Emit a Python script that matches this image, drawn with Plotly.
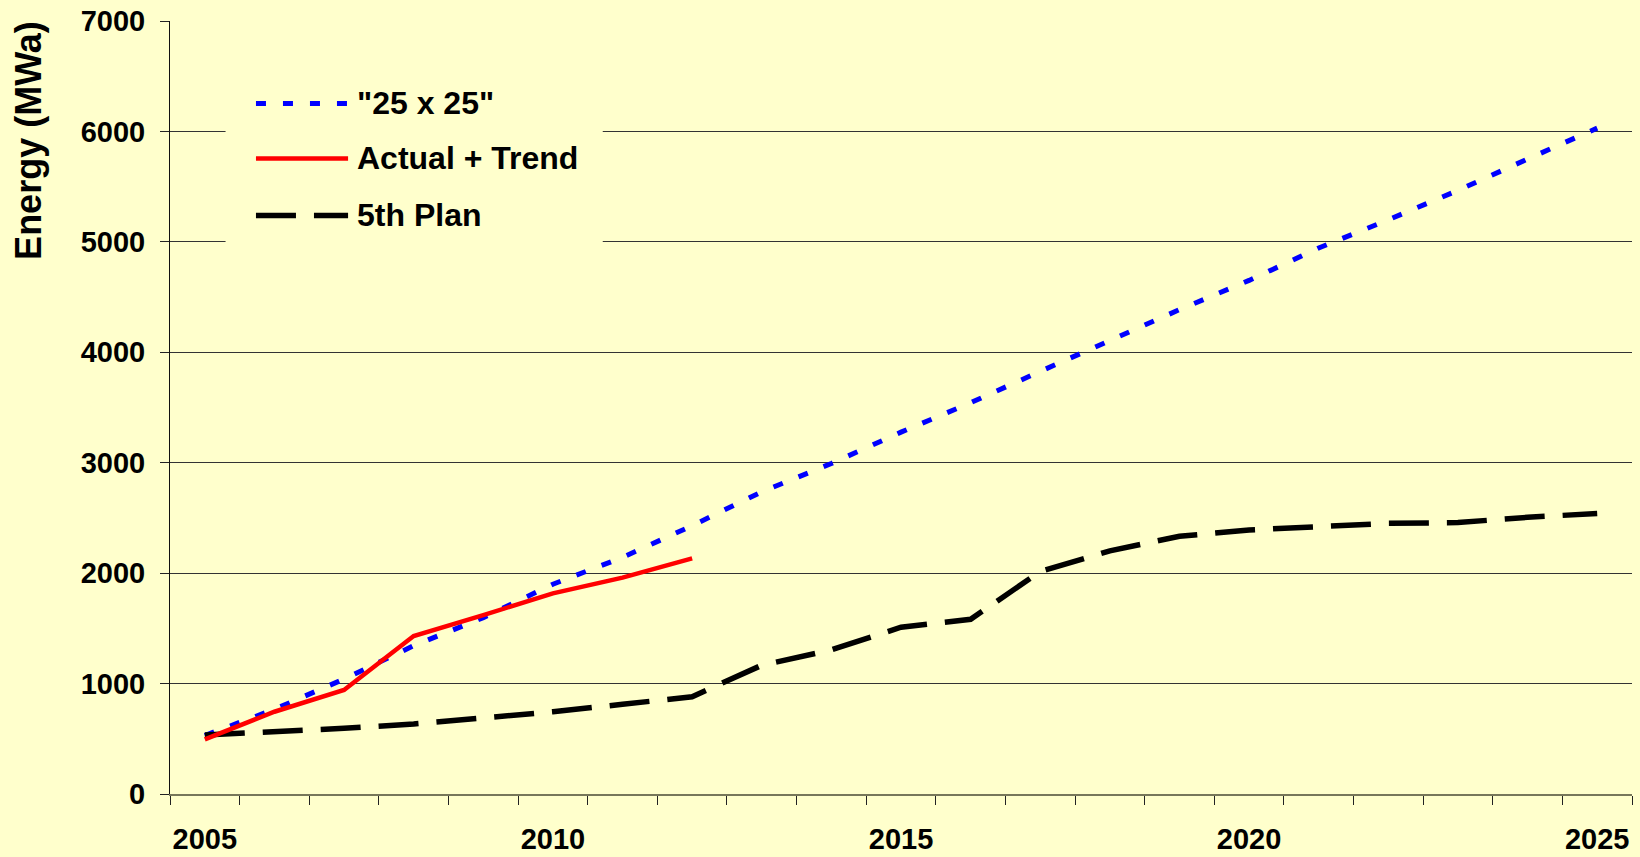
import plotly.graph_objects as go

# ---- data ----
years = list(range(2005, 2026))
target_25x25 = [530, 767, 1041, 1343, 1597, 1900, 2143, 2430, 2737, 2993, 3277,
                3543, 3827, 4111, 4386, 4651, 4945, 5200, 5466, 5750, 6030]
actual_years = list(range(2005, 2013))
actual_trend = [495, 745, 942, 1431, 1620, 1817, 1959, 2134]
plan5 = [534, 559, 595, 634, 686, 745, 812, 881, 1166, 1305, 1510,
         1582, 2015, 2202, 2334, 2391, 2421, 2451, 2458, 2506, 2540]
x_label_years = [2005, 2010, 2015, 2020, 2025]
y_ticks = [0, 1000, 2000, 3000, 4000, 5000, 6000, 7000]

series_names = ['"25 x 25"', "Actual + Trend", "5th Plan"]
series_colors = ["#0000FF", "#FF0000", "#000000"]
series_dash = ["10px,17px", "solid", "40px,18px"]
series_width = [5, 4.5, 5.5]

BG = "#FFFFCC"
FONT = "Liberation Sans, Arial, sans-serif"

fig = go.Figure()
fig.add_trace(go.Scatter(x=years, y=target_25x25, mode="lines", name=series_names[0],
                         line=dict(color=series_colors[0], width=series_width[0], dash=series_dash[0]),
                         showlegend=False))
fig.add_trace(go.Scatter(x=years, y=plan5, mode="lines", name=series_names[2],
                         line=dict(color=series_colors[2], width=series_width[2], dash=series_dash[2]),
                         showlegend=False))
fig.add_trace(go.Scatter(x=actual_years, y=actual_trend, mode="lines", name=series_names[1],
                         line=dict(color=series_colors[1], width=series_width[1], dash=series_dash[1]),
                         showlegend=False))

# ---- legend drawn as a box (paper coordinates) ----
shapes = [dict(type="rect", xref="paper", yref="paper", x0=0.038, x1=0.296, y0=0.672, y1=0.95,
               fillcolor=BG, line=dict(width=0), layer="above")]
annotations = []
legend_rows_y = [0.8933, 0.8222, 0.7484]
for name, col, dash, w, ly in zip(series_names, series_colors, series_dash, series_width, legend_rows_y):
    shapes.append(dict(type="line", xref="paper", yref="paper", x0=0.0588, x1=0.1218, y0=ly, y1=ly,
                       line=dict(color=col, width=w, dash=dash), layer="above"))
    annotations.append(dict(text=name, xref="paper", yref="paper", x=0.1262, y=ly,
                            xanchor="left", yanchor="middle", showarrow=False,
                            font=dict(family=FONT, size=32, color="black", weight="bold")))

annotations.append(dict(text="Energy (MWa)", xref="paper", yref="paper", x=-0.0964, y=0.845,
                        xanchor="center", yanchor="middle", textangle=-90, showarrow=False,
                        font=dict(family=FONT, size=36, color="black", weight="bold")))

fig.update_layout(
    width=1640, height=857, autosize=False,
    margin=dict(l=170, r=8, t=21, b=63),
    paper_bgcolor=BG, plot_bgcolor=BG,
    shapes=shapes, annotations=annotations,
    font=dict(family=FONT, color="black"),
    xaxis=dict(
        range=[2004.5, 2025.5], tickmode="array", tickvals=x_label_years,
        ticktext=[str(v) for v in x_label_years], automargin=False,
        ticks="outside", ticklen=9, tickcolor="rgba(0,0,0,0)",
        tickfont=dict(family=FONT, size=29, color="black", weight="bold"),
        ticklabelstandoff=9, ticklabeloverflow="allow",
        showgrid=False, zeroline=False,
        showline=True, linecolor="#77775a", linewidth=2,
        minor=dict(tickmode="linear", tick0=2004.5, dtick=1, ticks="outside",
                   ticklen=9, tickcolor="#222222", tickwidth=1, showgrid=False),
    ),
    yaxis=dict(
        range=[0, 7000], tickmode="array", tickvals=y_ticks, automargin=False,
        ticks="outside", ticklen=9, tickcolor="#222222", tickwidth=1,
        tickfont=dict(family=FONT, size=29, color="black", weight="bold"),
        ticklabelstandoff=9, ticklabeloverflow="allow",
        showgrid=True, gridcolor="#333333", gridwidth=1, zeroline=False,
        showline=True, linecolor="#111111", linewidth=1,
    ),
)

fig.write_html("out.html", config={"displayModeBar": False},
               post_script="document.body.style.margin='0';document.body.style.overflow='hidden';")
